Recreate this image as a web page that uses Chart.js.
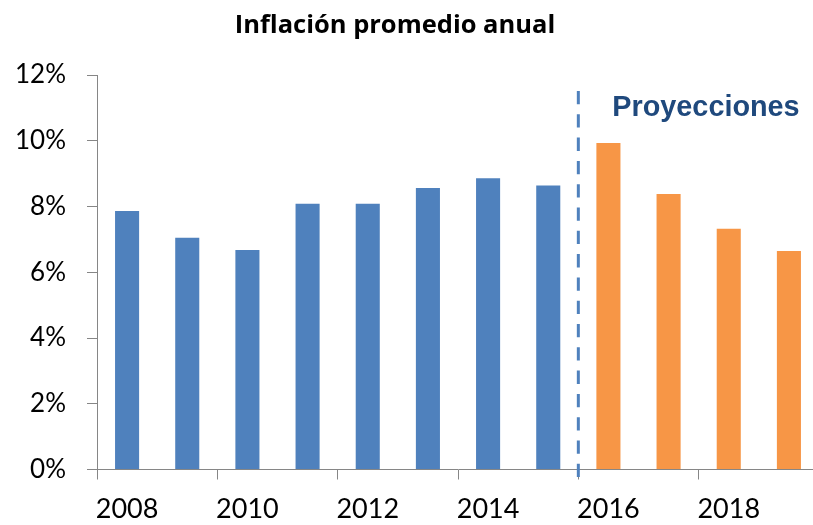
<!DOCTYPE html>
<html>
<head>
<meta charset="utf-8">
<script src="https://cdn.jsdelivr.net/npm/chart.js@4/dist/chart.umd.min.js"></script>
<style>
html,body{margin:0;padding:0;overflow:hidden;background:#fff;width:813px;height:525px}
canvas{display:block}
</style>
</head>
<body>
<canvas id="c" width="830" height="525"></canvas>
<script>
// ---- data ----
const years = ['2008','2009','2010','2011','2012','2013','2014','2015','2016','2017','2018','2019'];
const inflation = [7.86, 7.05, 6.68, 8.08, 8.08, 8.56, 8.86, 8.64, 9.93, 8.38, 7.32, 6.65];
const firstProjectionYear = '2016';
const yMin = 0, yMax = 12, yStep = 2;
const titleText = 'Inflación promedio anual';
const projectionLabel = 'Proyecciones';

// ---- styles ----
const BLUE = '#4F81BD', ORANGE = '#F79646', AXIS = '#868686', NAVY = '#1F497D';
const projIdx = years.indexOf(firstProjectionYear);
const barColors = years.map((_, i) => i >= projIdx ? ORANGE : BLUE);

const overlay = {
  id: 'overlay',
  afterDraw(chart) {
    const {ctx, scales: {x, y}} = chart;
    const xb = (x.getPixelForValue(projIdx - 1) + x.getPixelForValue(projIdx)) / 2;
    ctx.save();
    // dashed projection separator
    ctx.strokeStyle = BLUE;
    ctx.lineWidth = 3;
    ctx.setLineDash([13.3, 10]);
    ctx.beginPath();
    ctx.moveTo(xb, y.top + 16);
    ctx.lineTo(xb, y.bottom + 8);
    ctx.stroke();
    ctx.setLineDash([]);
    // projection label
    ctx.fillStyle = NAVY;
    ctx.font = 'bold 28.8px "Liberation Sans", Arial, sans-serif';
    ctx.textAlign = 'left';
    ctx.textBaseline = 'alphabetic';
    ctx.fillText(projectionLabel, xb + 34, 116);
    // title
    ctx.fillStyle = '#000';
    ctx.font = 'bold 25.5px "Open Sans", Lato, sans-serif';
    ctx.textAlign = 'center';
    ctx.fillText(titleText, 395, 33);
    ctx.restore();
  }
};

new Chart(document.getElementById('c'), {
  type: 'bar',
  data: {
    labels: years,
    datasets: [{
      data: inflation,
      backgroundColor: barColors,
      borderWidth: 0,
      categoryPercentage: 1.0,
      barPercentage: 0.4
    }]
  },
  options: {
    responsive: false,
    animation: false,
    devicePixelRatio: 1,
    layout: {padding: {top: 75, right: 11, left: 0, bottom: 0}},
    plugins: {legend: {display: false}, title: {display: false}, tooltip: {enabled: false}},
    scales: {
      x: {
        offset: true,
        grid: {
          offset: true,
          drawOnChartArea: false,
          drawTicks: true,
          tickLength: 10,
          color: AXIS,
          tickColor: (c) => (c.index % 2 === 0 ? AXIS : 'rgba(0,0,0,0)')
        },
        border: {display: true, color: AXIS, width: 1},
        ticks: {
          autoSkip: false,
          maxRotation: 0,
          minRotation: 0,
          padding: 14,
          color: '#000',
          font: {family: 'Lato, "Open Sans", sans-serif', size: 27},
          callback: (v, i) => (i % 2 === 0 ? years[i] : '')
        },
        afterFit: (s) => { s.height = 55.5; }
      },
      y: {
        min: yMin,
        max: yMax,
        grid: {
          drawOnChartArea: false,
          drawTicks: true,
          tickLength: 10,
          color: AXIS
        },
        border: {display: true, color: AXIS, width: 1},
        ticks: {
          stepSize: yStep,
          padding: 21,
          color: '#000',
          font: {family: 'Lato, "Open Sans", sans-serif', size: 26},
          callback: (v) => v + '%'
        },
        afterFit: (s) => { s.width = 97; }
      }
    }
  },
  plugins: [overlay]
});
</script>
</body>
</html>
